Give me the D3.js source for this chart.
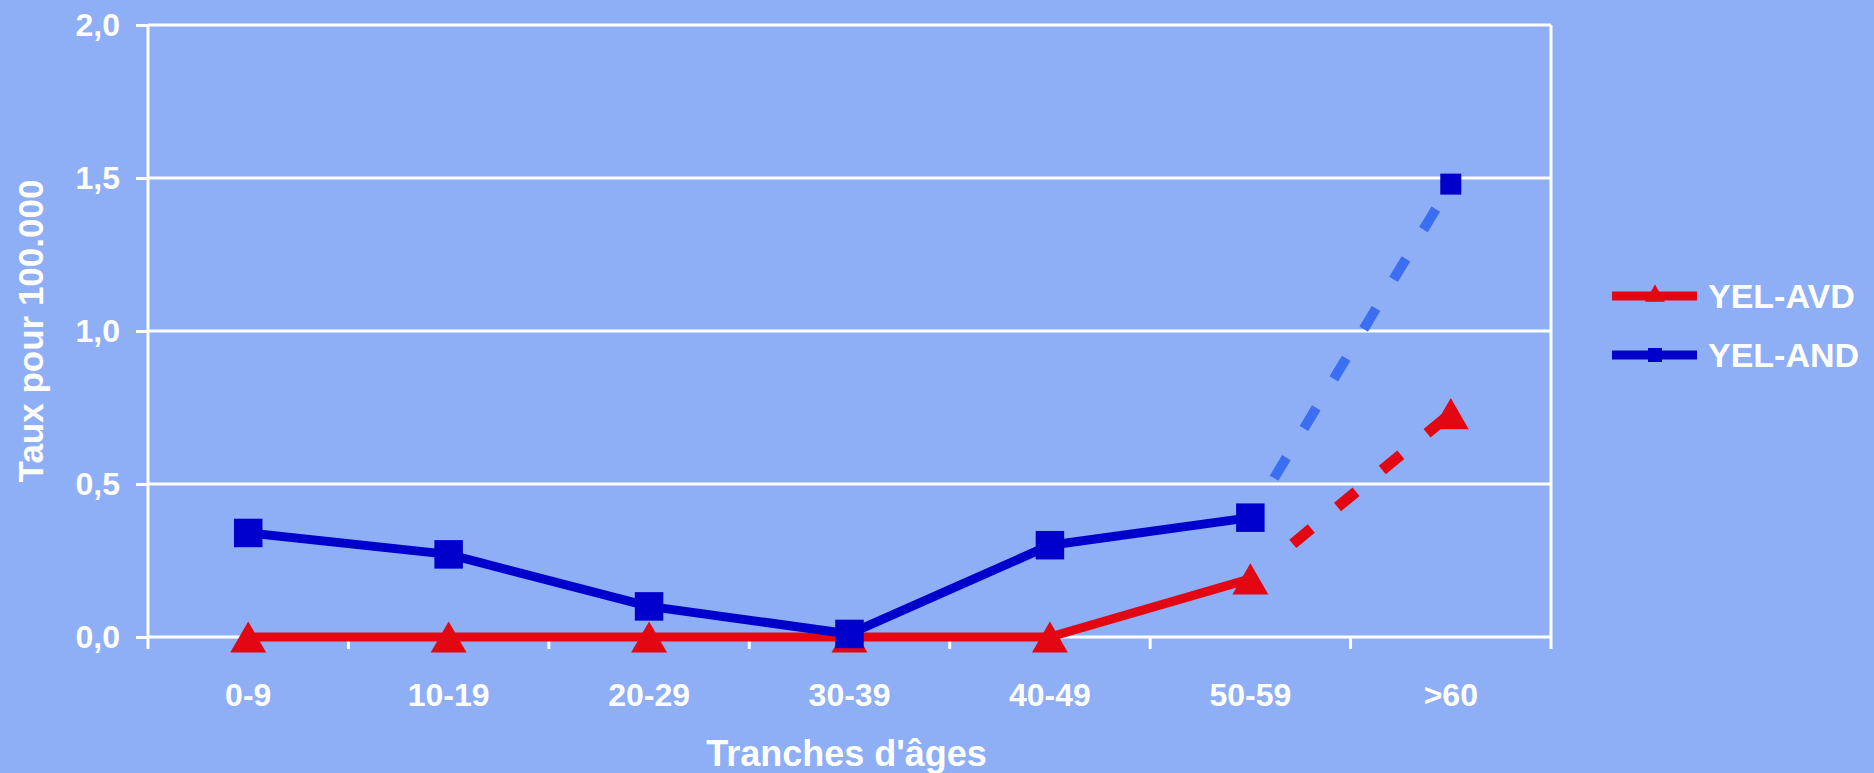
<!DOCTYPE html>
<html>
<head>
<meta charset="utf-8">
<script src="https://cdn.jsdelivr.net/npm/d3@7/dist/d3.min.js"></script>
<style>
  html, body { margin: 0; padding: 0; background: #8eaef5; }
  svg { display: block; }
  text { font-family: "Liberation Sans", Arial, sans-serif; font-weight: bold; fill: #ffffff; }
</style>
</head>
<body>
<svg id="chart" width="1874" height="773"></svg>
<script>
// Age bands and rates per 100 000
const categories = ["0-9", "10-19", "20-29", "30-39", "40-49", "50-59", ">60"];
const yelAvd = [0, 0, 0, 0, 0, 0.19, 0.73];
const yelAnd = [0.34, 0.27, 0.10, 0.01, 0.30, 0.39, 1.48];
const yTicks = [0, 0.5, 1.0, 1.5, 2.0];
const seriesNames = ["YEL-AVD", "YEL-AND"];
const xTitle = "Tranches d'âges";
const yTitle = "Taux pour 100.000";

const W = 1874, H = 773;
const margin = { top: 25, right: 323, bottom: 136, left: 148 };
const svg = d3.select("#chart");

const x = d3.scaleBand().domain(categories)
  .range([margin.left, W - margin.right]).padding(0);
const y = d3.scaleLinear().domain([0, 2]).range([H - margin.bottom, margin.top]);
const cx = c => x(c) + x.bandwidth() / 2;
const fmt = v => d3.format(".1f")(v).replace(".", ",");

const white = "#ffffff";
const axisW = 3;

// horizontal grid
svg.append("g").selectAll("line").data(yTicks.filter(t => t > 0)).join("line")
  .attr("x1", margin.left).attr("x2", W - margin.right)
  .attr("y1", d => y(d)).attr("y2", d => y(d))
  .attr("stroke", white).attr("stroke-width", axisW);

// y axis
const yAxis = svg.append("g").attr("transform", `translate(${margin.left},0)`)
  .call(d3.axisLeft(y).tickValues(yTicks).tickFormat(fmt).tickSize(12).tickPadding(16));
yAxis.select(".domain").remove();
yAxis.selectAll(".tick line").attr("stroke", white).attr("stroke-width", axisW);
yAxis.selectAll(".tick text").attr("font-size", 32).attr("fill", white);
svg.append("line")
  .attr("x1", margin.left).attr("x2", margin.left)
  .attr("y1", y(2)).attr("y2", y(0) + 12)
  .attr("stroke", white).attr("stroke-width", axisW);

// right border of the plot
svg.append("line")
  .attr("x1", W - margin.right).attr("x2", W - margin.right)
  .attr("y1", y(2)).attr("y2", y(0) + 12)
  .attr("stroke", white).attr("stroke-width", axisW);

// x axis line, boundary ticks and labels
svg.append("line")
  .attr("x1", margin.left).attr("x2", W - margin.right)
  .attr("y1", y(0)).attr("y2", y(0))
  .attr("stroke", white).attr("stroke-width", axisW);
svg.append("g").selectAll("line").data(categories.slice(1)).join("line")
  .attr("x1", d => x(d)).attr("x2", d => x(d))
  .attr("y1", y(0)).attr("y2", y(0) + 12)
  .attr("stroke", white).attr("stroke-width", axisW);
svg.append("g").selectAll("text").data(categories).join("text")
  .attr("x", d => cx(d)).attr("y", y(0) + 69)
  .attr("text-anchor", "middle").attr("font-size", 32)
  .text(d => d);

// axis titles
svg.append("text").attr("x", x(categories[3]) + x.bandwidth() / 2 - 3).attr("y", 766)
  .attr("text-anchor", "middle").attr("font-size", 36).text(xTitle);
svg.append("text")
  .attr("transform", `translate(43,${(y(0) + y(2)) / 2}) rotate(-90)`)
  .attr("text-anchor", "middle").attr("font-size", 35).text(yTitle);

// series styles
const styles = [
  { values: yelAvd, solid: "#e30613", dashed: "#e30613", marker: "triangle", dashW: 11, lead: 55 },
  { values: yelAnd, solid: "#0000cd", dashed: "#3c6ef2", marker: "square", dashW: 10, lead: 46 }
];

const line = d3.line().x(d => cx(d.c)).y(d => y(d.v));

// dash pattern with a leading gap next to the marker
function dashPattern(len, lead, dash, gap) {
  const parts = [0, lead];
  let pos = lead;
  while (pos < len) { parts.push(dash, gap); pos += dash + gap; }
  return parts.join(" ");
}

styles.forEach(s => {
  const pts = categories.map((c, i) => ({ c, v: s.values[i] }));
  // solid part: first six bands
  svg.append("path").datum(pts.slice(0, 6))
    .attr("d", line).attr("fill", "none")
    .attr("stroke", s.solid).attr("stroke-width", 9).attr("stroke-linejoin", "round");
  // dashed part: last two bands
  const dp = svg.append("path").datum(pts.slice(5))
    .attr("d", line).attr("fill", "none")
    .attr("stroke", s.dashed).attr("stroke-width", s.dashW);
  const len = dp.node().getTotalLength();
  dp.attr("stroke-dasharray", dashPattern(len, s.lead, 24, 34));
});

// markers
const triSize = 560;
const triH = Math.sqrt(triSize * Math.sqrt(3)); // height of the equilateral triangle
const sym = {
  triangle: d3.symbol().type(d3.symbolTriangle).size(triSize),
  square: d3.symbol().type(d3.symbolSquare).size(812),
  squareSmall: d3.symbol().type(d3.symbolSquare).size(441)
};
// AVD triangles, centred on the value vertically
svg.append("g").selectAll("path").data(categories).join("path")
  .attr("transform", (c, i) => `translate(${cx(c)},${y(yelAvd[i]) + triH / 6})`)
  .attr("d", sym.triangle()).attr("fill", "#e30613");
// AND squares
svg.append("g").selectAll("path").data(categories).join("path")
  .attr("transform", (c, i) => `translate(${cx(c)},${y(yelAnd[i])})`)
  .attr("d", (c, i) => i === categories.length - 1 ? sym.squareSmall() : sym.square())
  .attr("fill", "#0000cd");

// legend
const legend = svg.append("g");
const legY = [296, 355];
styles.forEach((s, i) => {
  legend.append("line").attr("x1", 1612).attr("x2", 1697)
    .attr("y1", legY[i]).attr("y2", legY[i])
    .attr("stroke", s.solid).attr("stroke-width", 9);
  legend.append("path")
    .attr("transform", `translate(1655,${legY[i]})`)
    .attr("d", s.marker === "triangle"
      ? d3.symbol().type(d3.symbolTriangle).size(170)()
      : d3.symbol().type(d3.symbolSquare).size(196)())
    .attr("fill", s.solid);
  legend.append("text").attr("x", 1708).attr("y", legY[i])
    .attr("dominant-baseline", "central").attr("font-size", 34)
    .text(seriesNames[i]);
});
</script>
</body>
</html>
